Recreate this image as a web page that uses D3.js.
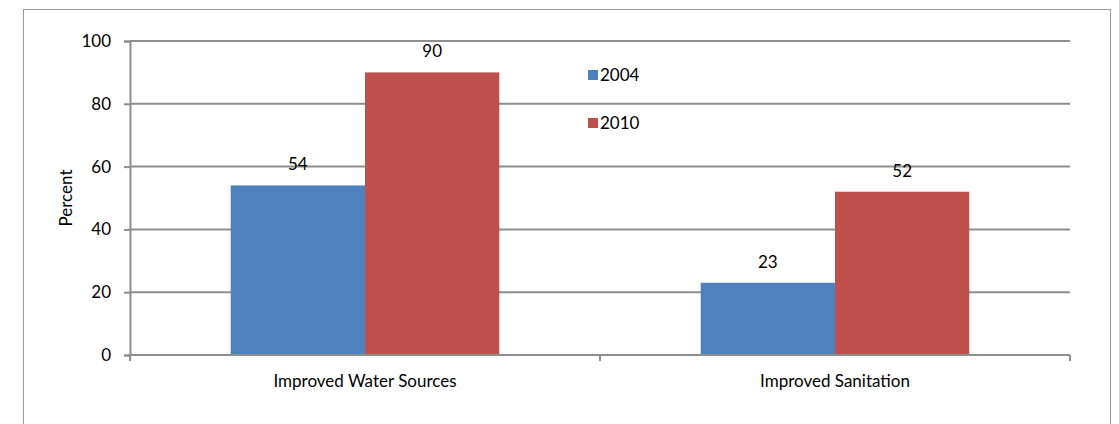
<!DOCTYPE html>
<html>
<head>
<meta charset="utf-8">
<script src="https://cdn.jsdelivr.net/npm/d3@7"></script>
<style>
  body { margin: 0; background: #fff; }
  svg text { font-family: Lato, "Open Sans", sans-serif; font-size: 17px; fill: #000; }
</style>
</head>
<body>
<div id="chart"></div>
<script>
const categories = ["Improved Water Sources", "Improved Sanitation"];
const seriesNames = ["2004", "2010"];
const values2004 = [54, 23];
const values2010 = [90, 52];
const yTicks = [0, 20, 40, 60, 80, 100];

const svgWidth = 1119;
const svgHeight = 424;
const margin = { top: 41, right: 49, bottom: 69, left: 130 };
const width = svgWidth - margin.left - margin.right;
const height = svgHeight - margin.top - margin.bottom;
const gridColor = "#8e8e8e";

const svg = d3.select("#chart")
  .append("svg")
  .attr("width", svgWidth)
  .attr("height", svgHeight);

// outer chart border
svg.append("rect")
  .attr("x", 23.5)
  .attr("y", 9.5)
  .attr("width", 1087)
  .attr("height", 430)
  .style("fill", "none")
  .style("stroke", "#9a9a9a")
  .style("stroke-width", 1);

const g = svg.append("g")
  .attr("transform", "translate(" + margin.left + "," + margin.top + ")");

const xScale = d3.scaleBand()
  .domain(categories)
  .range([0, width]);

const xInner = d3.scaleBand()
  .domain(seriesNames)
  .range([0, xScale.bandwidth()])
  .paddingOuter(0.75);

const yScale = d3.scaleLinear()
  .domain([0, 100])
  .range([height, 0]);

const colorScale = d3.scaleOrdinal()
  .domain(seriesNames)
  .range(["#4f81bd", "#c0504d"]);

// gridlines
g.selectAll(".grid")
  .data(yTicks)
  .enter()
  .append("line")
  .attr("x1", 0)
  .attr("x2", width)
  .attr("y1", function(d) { return yScale(d); })
  .attr("y2", function(d) { return yScale(d); })
  .style("stroke", gridColor)
  .style("stroke-width", 2);

const yAxis = d3.axisLeft(yScale)
  .tickValues(yTicks)
  .tickSize(6)
  .tickPadding(13);

const yAxisG = g.append("g").call(yAxis);
yAxisG.select(".domain").style("stroke", gridColor).style("stroke-width", 2);
yAxisG.selectAll(".tick line").style("stroke", gridColor).style("stroke-width", 2);
yAxisG.selectAll("text").style("font-size", "17px").style("font-family", "Lato, sans-serif");

// category boundary ticks
const boundaries = [0, xScale.bandwidth(), width];
g.selectAll(".xtick")
  .data(boundaries)
  .enter()
  .append("line")
  .attr("x1", function(d) { return d; })
  .attr("x2", function(d) { return d; })
  .attr("y1", height)
  .attr("y2", height + 6)
  .style("stroke", gridColor)
  .style("stroke-width", 2);

const data = categories.map(function(c, i) {
  return { category: c, values: [
    { series: "2004", value: values2004[i] },
    { series: "2010", value: values2010[i] }
  ] };
});

const groups = g.selectAll(".group")
  .data(data)
  .enter()
  .append("g")
  .attr("transform", function(d) { return "translate(" + xScale(d.category) + ",0)"; });

groups.selectAll("rect")
  .data(function(d) { return d.values; })
  .enter()
  .append("rect")
  .attr("x", function(d) { return xInner(d.series); })
  .attr("y", function(d) { return yScale(d.value); })
  .attr("width", xInner.bandwidth())
  .attr("height", function(d) { return height - yScale(d.value); })
  .style("fill", function(d) { return colorScale(d.series); });

groups.selectAll(".val")
  .data(function(d) { return d.values; })
  .enter()
  .append("text")
  .attr("x", function(d) { return xInner(d.series) + xInner.bandwidth() / 2; })
  .attr("y", function(d) { return yScale(d.value) - 15; })
  .style("text-anchor", "middle")
  .text(function(d) { return d.value; });

// x axis line drawn over bars
g.append("line")
  .attr("x1", 0)
  .attr("x2", width)
  .attr("y1", height)
  .attr("y2", height)
  .style("stroke", gridColor)
  .style("stroke-width", 2);

g.selectAll(".cat")
  .data(categories)
  .enter()
  .append("text")
  .attr("x", function(d) { return xScale(d) + xScale.bandwidth() / 2; })
  .attr("y", height + 32)
  .style("text-anchor", "middle")
  .text(function(d) { return d; });

svg.append("text")
  .attr("transform", "rotate(-90)")
  .attr("x", -198)
  .attr("y", 72)
  .style("text-anchor", "middle")
  .text("Percent");

// legend
const legend = svg.selectAll(".legend")
  .data(seriesNames)
  .enter()
  .append("g")
  .attr("transform", function(d, i) { return "translate(588," + (70 + i * 48) + ")"; });

legend.append("rect")
  .attr("width", 10)
  .attr("height", 10)
  .style("fill", function(d) { return colorScale(d); });

legend.append("text")
  .attr("x", 12)
  .attr("y", 11)
  .text(function(d) { return d; });
</script>
</body>
</html>
